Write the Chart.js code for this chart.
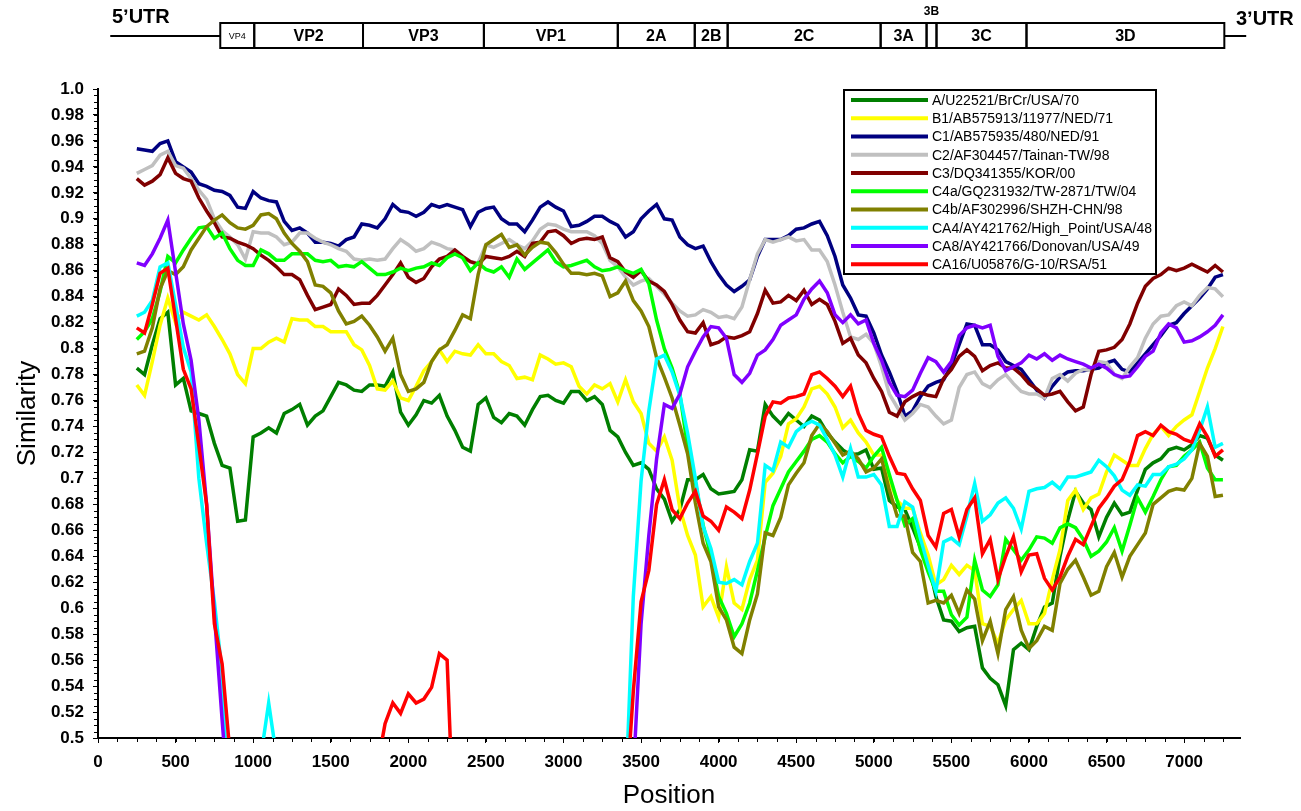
<!DOCTYPE html>
<html lang="en">
<head>
<meta charset="UTF-8">
<title>Similarity plot</title>
<script src="https://cdn.jsdelivr.net/npm/chart.js"></script>
<style>
  html, body { margin: 0; padding: 0; background: #fff; }
  #wrap { width: 1301px; height: 811px; position: relative; }
</style>
</head>
<body>
<div id="wrap"><canvas id="simplot"></canvas></div>
<script>
// window centres (nt)
const positions = [
  250, 300, 350, 400, 450, 500, 550, 600, 650, 700,
  750, 800, 850, 900, 950, 1000, 1050, 1100, 1150, 1200,
  1250, 1300, 1350, 1400, 1450, 1500, 1550, 1600, 1650, 1700,
  1750, 1800, 1850, 1900, 1950, 2000, 2050, 2100, 2150, 2200,
  2250, 2300, 2350, 2400, 2450, 2500, 2550, 2600, 2650, 2700,
  2750, 2800, 2850, 2900, 2950, 3000, 3050, 3100, 3150, 3200,
  3250, 3300, 3350, 3400, 3450, 3500, 3550, 3600, 3650, 3700,
  3750, 3800, 3850, 3900, 3950, 4000, 4050, 4100, 4150, 4200,
  4250, 4300, 4350, 4400, 4450, 4500, 4550, 4600, 4650, 4700,
  4750, 4800, 4850, 4900, 4950, 5000, 5050, 5100, 5150, 5200,
  5250, 5300, 5350, 5400, 5450, 5500, 5550, 5600, 5650, 5700,
  5750, 5800, 5850, 5900, 5950, 6000, 6050, 6100, 6150, 6200,
  6250, 6300, 6350, 6400, 6450, 6500, 6550, 6600, 6650, 6700,
  6750, 6800, 6850, 6900, 6950, 7000, 7050, 7100, 7150, 7200,
  7250
];

const seriesNames = [
  'A/U22521/BrCr/USA/70',
  'B1/AB575913/11977/NED/71',
  'C1/AB575935/480/NED/91',
  'C2/AF304457/Tainan-TW/98',
  'C3/DQ341355/KOR/00',
  'C4a/GQ231932/TW-2871/TW/04',
  'C4b/AF302996/SHZH-CHN/98',
  'CA4/AY421762/High_Point/USA/48',
  'CA8/AY421766/Donovan/USA/49',
  'CA16/U05876/G-10/RSA/51'
];
const seriesColors = ['#007f00', '#ffff00', '#000080', '#c0c0c0', '#800000',
                      '#00ff00', '#808000', '#00ffff', '#8000ff', '#ff0000'];

const simA = [
  0.785, 0.780, 0.803, 0.823, 0.828, 0.772, 0.777, 0.752, 0.750, 0.748,
  0.727, 0.710, 0.708, 0.667, 0.668, 0.732, 0.735, 0.739, 0.735, 0.750,
  0.753, 0.757, 0.741, 0.748, 0.752, 0.763, 0.774, 0.772, 0.768, 0.767,
  0.772, 0.772, 0.771, 0.782, 0.751, 0.741, 0.749, 0.760, 0.758, 0.764,
  0.748, 0.737, 0.724, 0.721, 0.757, 0.762, 0.747, 0.743, 0.750, 0.748,
  0.741, 0.753, 0.763, 0.764, 0.760, 0.758, 0.767, 0.767, 0.760, 0.763,
  0.757, 0.737, 0.732, 0.720, 0.710, 0.712, 0.707, 0.692, 0.684, 0.667,
  0.676, 0.699, 0.699, 0.703, 0.692, 0.688, 0.689, 0.690, 0.699, 0.722,
  0.721, 0.757, 0.748, 0.742, 0.750, 0.745, 0.740, 0.748, 0.745, 0.735,
  0.728, 0.722, 0.718, 0.719, 0.722, 0.707, 0.708, 0.683, 0.678, 0.676,
  0.662, 0.647, 0.636, 0.609, 0.591, 0.590, 0.582, 0.585, 0.586, 0.554,
  0.546, 0.541, 0.525, 0.568, 0.573, 0.568, 0.586, 0.601, 0.604, 0.640,
  0.668, 0.690, 0.681, 0.676, 0.655, 0.670, 0.681, 0.672, 0.674, 0.691,
  0.707, 0.712, 0.715, 0.722, 0.724, 0.722, 0.726, 0.733, 0.731, 0.718,
  0.714
];
const simB1 = [
  0.772, 0.764, 0.790, 0.818, 0.839, 0.820, 0.828, 0.825, 0.822, 0.826,
  0.817, 0.807, 0.796, 0.780, 0.773, 0.800, 0.800, 0.805, 0.808, 0.805,
  0.823, 0.822, 0.822, 0.817, 0.817, 0.813, 0.813, 0.813, 0.803, 0.799,
  0.787, 0.769, 0.768, 0.775, 0.762, 0.760, 0.771, 0.783, 0.790, 0.799,
  0.790, 0.798, 0.796, 0.795, 0.803, 0.796, 0.796, 0.790, 0.787, 0.777,
  0.778, 0.776, 0.795, 0.792, 0.788, 0.789, 0.786, 0.771, 0.765, 0.772,
  0.769, 0.773, 0.759, 0.776, 0.759, 0.750, 0.727, 0.721, 0.732, 0.714,
  0.677, 0.656, 0.641, 0.601, 0.609, 0.593, 0.632, 0.604, 0.599, 0.622,
  0.637, 0.697, 0.704, 0.717, 0.742, 0.746, 0.755, 0.769, 0.771, 0.765,
  0.755, 0.739, 0.745, 0.735, 0.728, 0.718, 0.718, 0.699, 0.683, 0.677,
  0.677, 0.658, 0.641, 0.618, 0.622, 0.633, 0.626, 0.633, 0.629, 0.588,
  0.586, 0.573, 0.591, 0.599, 0.606, 0.588, 0.588, 0.596, 0.622, 0.645,
  0.683, 0.691, 0.676, 0.685, 0.688, 0.705, 0.718, 0.714, 0.710, 0.710,
  0.723, 0.734, 0.740, 0.733, 0.740, 0.745, 0.749, 0.767, 0.785, 0.800,
  0.817
];
const simC1 = [
  0.954, 0.953, 0.952, 0.958, 0.960, 0.944, 0.940, 0.936, 0.927, 0.925,
  0.922, 0.921, 0.918, 0.909, 0.908, 0.921, 0.916, 0.914, 0.913, 0.898,
  0.891, 0.893, 0.889, 0.882, 0.882, 0.881, 0.879, 0.884, 0.886, 0.896,
  0.895, 0.893, 0.900, 0.911, 0.906, 0.905, 0.902, 0.905, 0.911, 0.909,
  0.911, 0.909, 0.907, 0.894, 0.905, 0.908, 0.909, 0.900, 0.896, 0.896,
  0.890, 0.899, 0.909, 0.913, 0.909, 0.906, 0.894, 0.895, 0.898, 0.902,
  0.902, 0.898, 0.895, 0.886, 0.890, 0.900, 0.906, 0.911, 0.900, 0.899,
  0.886, 0.880, 0.877, 0.879, 0.867, 0.857, 0.849, 0.844, 0.848, 0.853,
  0.871, 0.884, 0.884, 0.884, 0.887, 0.892, 0.893, 0.896, 0.898, 0.887,
  0.871, 0.849, 0.839, 0.826, 0.825, 0.812, 0.795, 0.782, 0.767, 0.748,
  0.752, 0.763, 0.771, 0.774, 0.776, 0.787, 0.803, 0.819, 0.818, 0.803,
  0.803, 0.799, 0.790, 0.787, 0.784, 0.776, 0.768, 0.762, 0.771, 0.778,
  0.782, 0.783, 0.783, 0.784, 0.785, 0.789, 0.791, 0.784, 0.782, 0.789,
  0.796, 0.803, 0.810, 0.818, 0.820, 0.827, 0.833, 0.839, 0.846, 0.855,
  0.857
];
const simC2 = [
  0.935, 0.938, 0.941, 0.949, 0.952, 0.941, 0.939, 0.931, 0.922, 0.915,
  0.900, 0.891, 0.886, 0.880, 0.869, 0.890, 0.889, 0.889, 0.886, 0.880,
  0.882, 0.889, 0.889, 0.885, 0.882, 0.880, 0.877, 0.875, 0.869, 0.868,
  0.869, 0.868, 0.869, 0.877, 0.884, 0.880, 0.875, 0.877, 0.882, 0.880,
  0.877, 0.876, 0.871, 0.867, 0.866, 0.880, 0.878, 0.881, 0.884, 0.880,
  0.877, 0.883, 0.892, 0.896, 0.895, 0.892, 0.890, 0.890, 0.890, 0.887,
  0.881, 0.868, 0.863, 0.855, 0.849, 0.852, 0.854, 0.848, 0.842, 0.835,
  0.829, 0.825, 0.826, 0.830, 0.828, 0.824, 0.825, 0.823, 0.832, 0.853,
  0.873, 0.884, 0.882, 0.884, 0.886, 0.883, 0.884, 0.876, 0.876, 0.867,
  0.849, 0.828, 0.809, 0.807, 0.811, 0.804, 0.786, 0.765, 0.755, 0.745,
  0.750, 0.757, 0.755, 0.748, 0.742, 0.745, 0.770, 0.780, 0.782, 0.773,
  0.770, 0.776, 0.780, 0.773, 0.767, 0.765, 0.765, 0.762, 0.777, 0.780,
  0.775, 0.781, 0.784, 0.783, 0.790, 0.789, 0.780, 0.777, 0.786, 0.793,
  0.808, 0.819, 0.825, 0.826, 0.833, 0.836, 0.833, 0.841, 0.847, 0.846,
  0.840
];
const simC3 = [
  0.931, 0.926, 0.929, 0.934, 0.947, 0.935, 0.931, 0.929, 0.916, 0.906,
  0.897, 0.886, 0.885, 0.882, 0.880, 0.877, 0.872, 0.868, 0.863, 0.857,
  0.857, 0.853, 0.841, 0.830, 0.832, 0.834, 0.846, 0.841, 0.834, 0.835,
  0.835, 0.841, 0.849, 0.857, 0.866, 0.855, 0.851, 0.854, 0.863, 0.869,
  0.871, 0.876, 0.871, 0.867, 0.865, 0.871, 0.870, 0.869, 0.871, 0.875,
  0.871, 0.881, 0.882, 0.890, 0.891, 0.887, 0.881, 0.884, 0.885, 0.884,
  0.886, 0.870, 0.867, 0.859, 0.855, 0.860, 0.852, 0.849, 0.844, 0.834,
  0.822, 0.813, 0.812, 0.820, 0.803, 0.805, 0.809, 0.808, 0.810, 0.813,
  0.827, 0.845, 0.835, 0.836, 0.841, 0.837, 0.845, 0.834, 0.838, 0.834,
  0.821, 0.804, 0.808, 0.795, 0.789, 0.777, 0.767, 0.751, 0.748, 0.759,
  0.763, 0.766, 0.764, 0.763, 0.777, 0.784, 0.794, 0.799, 0.794, 0.783,
  0.787, 0.789, 0.785, 0.785, 0.780, 0.773, 0.769, 0.764, 0.765, 0.767,
  0.759, 0.752, 0.755, 0.780, 0.798, 0.799, 0.801, 0.807, 0.819, 0.835,
  0.848, 0.854, 0.857, 0.862, 0.860, 0.862, 0.865, 0.862, 0.859, 0.864,
  0.859
];
const simC4a = [
  0.807, 0.813, 0.823, 0.844, 0.871, 0.866, 0.876, 0.885, 0.893, 0.894,
  0.885, 0.889, 0.877, 0.868, 0.864, 0.864, 0.876, 0.873, 0.868, 0.868,
  0.873, 0.873, 0.873, 0.868, 0.867, 0.868, 0.863, 0.864, 0.863, 0.867,
  0.862, 0.857, 0.857, 0.859, 0.862, 0.860, 0.862, 0.863, 0.866, 0.864,
  0.870, 0.873, 0.870, 0.860, 0.866, 0.861, 0.859, 0.863, 0.855, 0.869,
  0.861, 0.866, 0.871, 0.876, 0.867, 0.863, 0.864, 0.866, 0.868, 0.863,
  0.860, 0.861, 0.863, 0.860, 0.858, 0.861, 0.850, 0.822, 0.800, 0.785,
  0.765, 0.724, 0.697, 0.664, 0.640, 0.609, 0.596, 0.578, 0.588, 0.604,
  0.629, 0.655, 0.679, 0.692, 0.705, 0.713, 0.721, 0.730, 0.733, 0.728,
  0.719, 0.712, 0.717, 0.713, 0.708, 0.717, 0.724, 0.703, 0.683, 0.664,
  0.669, 0.645, 0.628, 0.613, 0.613, 0.595, 0.587, 0.593, 0.637, 0.614,
  0.609, 0.618, 0.653, 0.645, 0.637, 0.645, 0.655, 0.654, 0.650, 0.662,
  0.665, 0.662, 0.653, 0.640, 0.644, 0.651, 0.662, 0.644, 0.664, 0.685,
  0.674, 0.686, 0.699, 0.709, 0.710, 0.717, 0.722, 0.728, 0.708, 0.699,
  0.699
];
const simC4b = [
  0.796, 0.798, 0.816, 0.846, 0.860, 0.857, 0.863, 0.876, 0.885, 0.894,
  0.899, 0.903, 0.897, 0.893, 0.892, 0.895, 0.903, 0.904, 0.900, 0.889,
  0.881, 0.875, 0.867, 0.849, 0.848, 0.843, 0.829, 0.819, 0.821, 0.825,
  0.818, 0.809, 0.798, 0.808, 0.780, 0.767, 0.769, 0.774, 0.790, 0.799,
  0.803, 0.814, 0.826, 0.823, 0.857, 0.880, 0.884, 0.888, 0.878, 0.880,
  0.872, 0.878, 0.882, 0.881, 0.874, 0.865, 0.858, 0.858, 0.857, 0.858,
  0.856, 0.840, 0.843, 0.852, 0.837, 0.829, 0.817, 0.793, 0.778, 0.762,
  0.741, 0.719, 0.681, 0.650, 0.636, 0.601, 0.591, 0.570, 0.565, 0.591,
  0.611, 0.658, 0.656, 0.670, 0.695, 0.704, 0.712, 0.733, 0.742, 0.736,
  0.727, 0.718, 0.721, 0.715, 0.705, 0.708, 0.715, 0.691, 0.671, 0.671,
  0.643, 0.636, 0.604, 0.606, 0.604, 0.610, 0.596, 0.614, 0.607, 0.575,
  0.590, 0.565, 0.599, 0.609, 0.583, 0.569, 0.575, 0.586, 0.583, 0.619,
  0.630, 0.637, 0.624, 0.610, 0.613, 0.632, 0.643, 0.624, 0.640, 0.649,
  0.658, 0.680, 0.685, 0.690, 0.692, 0.691, 0.700, 0.727, 0.717, 0.686,
  0.687
];
const simCA4 = [
  0.825, 0.828, 0.837, 0.863, 0.866, 0.834, 0.801, 0.782, 0.700, 0.650,
  0.605, 0.550, 0.425, null, null, null, 0.486, 0.527, 0.486, null,
  null, null, null, null, null, null, null, null, null, null,
  null, null, null, null, null, null, null, null, null, null,
  null, null, null, null, null, null, null, null, null, null,
  null, null, null, null, null, null, null, null, null, null,
  null, null, null, 0.453, 0.609, 0.698, 0.752, 0.792, 0.795, 0.782,
  0.764, 0.735, 0.700, 0.663, 0.646, 0.620, 0.619, 0.622, 0.618, 0.636,
  0.650, 0.710, 0.706, 0.728, 0.724, 0.736, 0.741, 0.744, 0.741, 0.730,
  0.718, 0.701, 0.723, 0.701, 0.701, 0.703, 0.695, 0.663, 0.663, 0.682,
  0.678, 0.654, 0.633, 0.613, 0.651, 0.654, 0.649, 0.671, 0.696, 0.667,
  0.672, 0.681, 0.685, 0.677, 0.661, 0.690, 0.692, 0.693, 0.697, 0.692,
  0.701, 0.701, 0.703, 0.705, 0.714, 0.709, 0.702, 0.691, 0.687, 0.695,
  0.694, 0.703, 0.703, 0.709, 0.711, 0.715, 0.722, 0.737, 0.755, 0.724,
  0.727
];
const simCA8 = [
  0.866, 0.864, 0.873, 0.885, 0.899, 0.859, 0.819, 0.791, 0.745, 0.680,
  0.595, 0.514, 0.436, null, null, null, null, null, null, null,
  null, null, null, null, null, null, null, null, null, null,
  null, null, null, null, null, null, null, null, null, null,
  null, null, null, null, null, null, null, null, null, null,
  null, null, null, null, null, null, null, null, null, null,
  null, null, null, null, 0.472, 0.588, 0.656, 0.715, 0.757, 0.754,
  0.765, 0.786, 0.798, 0.809, 0.817, 0.816, 0.808, 0.780, 0.774, 0.781,
  0.795, 0.799, 0.807, 0.818, 0.822, 0.826, 0.838, 0.846, 0.852, 0.843,
  0.826, 0.820, 0.826, 0.819, 0.822, 0.804, 0.791, 0.774, 0.764, 0.763,
  0.768, 0.781, 0.793, 0.790, 0.782, 0.790, 0.810, 0.816, 0.818, 0.816,
  0.818, 0.794, 0.783, 0.786, 0.789, 0.795, 0.792, 0.796, 0.791, 0.795,
  0.792, 0.790, 0.788, 0.785, 0.788, 0.785, 0.780, 0.778, 0.779, 0.786,
  0.794, 0.798, 0.812, 0.819, 0.816, 0.805, 0.806, 0.809, 0.813, 0.818,
  0.826
];
const simCA16 = [
  0.816, 0.812, 0.834, 0.858, 0.862, 0.823, 0.784, 0.769, 0.725, 0.680,
  0.588, 0.557, 0.489, null, null, null, null, null, null, null,
  null, null, null, null, null, null, null, null, null, null,
  null, 0.478, 0.511, 0.527, 0.519, 0.534, 0.527, 0.530, 0.539, 0.565,
  0.560, 0.410, null, null, null, null, null, null, null, null,
  null, null, null, null, null, null, null, null, null, null,
  null, null, null, 0.446, 0.536, 0.605, 0.629, 0.680, 0.699, 0.676,
  0.669, 0.681, 0.690, 0.671, 0.667, 0.660, 0.678, 0.674, 0.669, 0.691,
  0.719, 0.748, 0.759, 0.758, 0.762, 0.763, 0.765, 0.780, 0.782, 0.777,
  0.771, 0.763, 0.771, 0.750, 0.737, 0.734, 0.732, 0.717, 0.704, 0.703,
  0.692, 0.683, 0.656, 0.647, 0.673, 0.676, 0.655, 0.676, 0.685, 0.642,
  0.653, 0.622, 0.640, 0.655, 0.628, 0.641, 0.642, 0.623, 0.614, 0.624,
  0.640, 0.653, 0.649, 0.663, 0.677, 0.685, 0.694, 0.699, 0.713, 0.733,
  0.736, 0.733, 0.741, 0.736, 0.734, 0.730, 0.728, 0.742, 0.732, 0.717,
  0.722
];
const seriesValues = [simA, simB1, simC1, simC2, simC3, simC4a, simC4b, simCA4, simCA8, simCA16];

// labelled ticks on the position axis
const xTickValues = [0, 500, 1000, 1500, 2000, 2500, 3000, 3500, 4000, 4500, 5000, 5500, 6000, 6500, 7000];

// genome map, in nucleotide coordinates of the same x axis
const geneNames  = ['VP4', 'VP2', 'VP3', 'VP1', '2A', '2B', '2C', '3A', '3B', '3C', '3D'];
const geneStarts = [788, 1007, 1708, 2487, 3350, 3846, 4058, 5044, 5340, 5404, 5984];
const genomeEnd = 7259;
const utr5Start = 79;
const utr3End = 7400;

// axis steps
const xMinorStep = 125;
const yMajorStep = 0.02, yMinorStep = 0.005;

const FONT = '"Liberation Sans", Arial, Helvetica, sans-serif';

const genomeMap = {
  id: 'genomeMap',
  afterDraw(chart) {
    const ctx = chart.ctx;
    const xs = chart.scales.x;
    const top = 23, bottom = 48, mid = 36;
    ctx.save();
    ctx.strokeStyle = '#000';
    ctx.lineWidth = 2;
    ctx.beginPath();
    ctx.moveTo(xs.getPixelForValue(utr5Start), mid);
    ctx.lineTo(xs.getPixelForValue(geneStarts[0]), mid);
    ctx.moveTo(xs.getPixelForValue(genomeEnd), mid);
    ctx.lineTo(xs.getPixelForValue(utr3End), mid);
    ctx.stroke();

    const edges = geneStarts.concat([genomeEnd]);
    ctx.textAlign = 'center';
    ctx.textBaseline = 'middle';
    ctx.fillStyle = '#000';
    for (let i = 0; i < geneNames.length; i++) {
      const x0 = xs.getPixelForValue(edges[i]);
      const x1 = xs.getPixelForValue(edges[i + 1]);
      ctx.strokeRect(x0, top, x1 - x0, bottom - top);
      const name = geneNames[i];
      if (name === '3B') {
        ctx.font = 'bold 12px ' + FONT;
        ctx.fillText(name, (x0 + x1) / 2, 12);
      } else if (name === 'VP4') {
        ctx.font = '9px ' + FONT;
        ctx.fillText(name, (x0 + x1) / 2, (top + bottom) / 2 + 1);
      } else {
        ctx.font = 'bold 16px ' + FONT;
        ctx.fillText(name, (x0 + x1) / 2, (top + bottom) / 2 + 1);
      }
    }
    ctx.font = 'bold 20px ' + FONT;
    ctx.textAlign = 'left';
    ctx.fillText("5\u02BCUTR", 112, 17);
    ctx.fillText("3\u02BCUTR", 1236, 19);
    ctx.restore();
  }
};

// small tick marks between the labelled ones
const minorTicks = {
  id: 'minorTicks',
  afterDraw(chart) {
    const ctx = chart.ctx;
    const xs = chart.scales.x, ys = chart.scales.y;
    const area = chart.chartArea;
    ctx.save();
    ctx.strokeStyle = '#000';
    ctx.lineWidth = 1;
    ctx.beginPath();
    for (let v = 0; v <= xs.max; v += xMinorStep) {
      const px = Math.round(xs.getPixelForValue(v)) + 0.5;
      ctx.moveTo(px, area.bottom);
      ctx.lineTo(px, area.bottom + 4);
    }
    for (let k = 0; ys.min + k * yMinorStep <= ys.max + 1e-9; k++) {
      const py = Math.round(ys.getPixelForValue(ys.min + k * yMinorStep)) + 0.5;
      ctx.moveTo(area.left - 4, py);
      ctx.lineTo(area.left, py);
    }
    ctx.stroke();
    ctx.restore();
  }
};

const boxLegend = {
  id: 'boxLegend',
  afterDatasetsDraw(chart) {
    const ctx = chart.ctx;
    const left = 844, top = 90, width = 312, height = 184;
    ctx.save();
    ctx.fillStyle = '#fff';
    ctx.fillRect(left, top, width, height);
    ctx.strokeStyle = '#000';
    ctx.lineWidth = 2;
    ctx.strokeRect(left, top, width, height);
    ctx.font = '14px ' + FONT;
    ctx.textBaseline = 'middle';
    ctx.textAlign = 'left';
    seriesNames.forEach((name, i) => {
      const y = top + 10 + i * 18.26;
      ctx.strokeStyle = seriesColors[i];
      ctx.lineWidth = 4;
      ctx.beginPath();
      ctx.moveTo(left + 7, y);
      ctx.lineTo(left + 84, y);
      ctx.stroke();
      ctx.fillStyle = '#000';
      ctx.fillText(name, left + 88, y + 1);
    });
    ctx.restore();
  }
};

const datasets = seriesNames.map((name, i) => ({
  label: name,
  data: seriesValues[i].map((v, j) => ({ x: positions[j], y: v })),
  borderColor: seriesColors[i],
  backgroundColor: seriesColors[i],
  borderWidth: 3.5,
  pointRadius: 0,
  tension: 0,
  fill: false,
  order: seriesNames.length - i
}));

new Chart(document.getElementById('simplot'), {
  type: 'line',
  data: { datasets: datasets },
  options: {
    responsive: true,
    maintainAspectRatio: false,
    animation: false,
    events: [],
    layout: { padding: { top: 89, right: 61, bottom: 0, left: 0 } },
    plugins: {
      legend: { display: false },
      tooltip: { enabled: false }
    },
    scales: {
      x: {
        type: 'linear',
        min: 0,
        max: 7360,
        afterBuildTicks: s => { s.ticks = xTickValues.map(v => ({ value: v })); },
        afterFit: s => { s.height = 73; },
        border: { display: true, color: '#000', width: 2 },
        grid: { drawOnChartArea: false, color: '#000', tickLength: 5 },
        ticks: {
          autoSkip: false,
          maxRotation: 0,
          color: '#000',
          padding: 9,
          font: { family: FONT, size: 17, weight: 'bold' },
          callback: v => String(Math.round(v))
        },
        title: {
          display: true,
          text: 'Position',
          color: '#000',
          font: { family: FONT, size: 26 },
          padding: { top: 0, bottom: 0 }
        }
      },
      y: {
        min: 0.5,
        max: 1.0,
        afterFit: s => { s.width = 98; },
        border: { display: true, color: '#000', width: 2 },
        grid: { drawOnChartArea: false, color: '#000', tickLength: 5 },
        ticks: {
          stepSize: yMajorStep,
          autoSkip: false,
          color: '#000',
          padding: 9,
          font: { family: FONT, size: 17, weight: 'bold' },
          callback: v => (Math.abs(v - 1) < 1e-9 ? '1.0' : String(+v.toFixed(2)))
        },
        title: {
          display: true,
          text: 'Similarity',
          color: '#000',
          font: { family: FONT, size: 26 },
          padding: { top: 12, bottom: 0 }
        }
      }
    }
  },
  plugins: [genomeMap, minorTicks, boxLegend]
});
</script>
</body>
</html>
